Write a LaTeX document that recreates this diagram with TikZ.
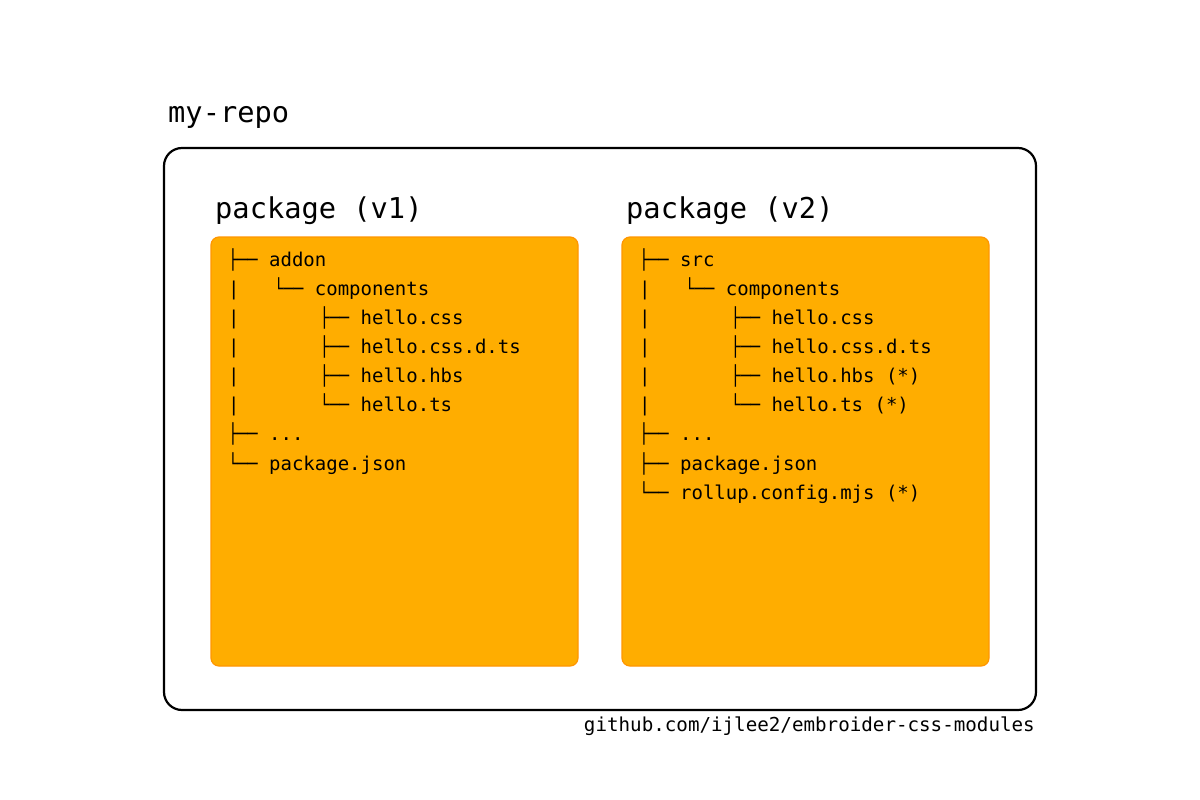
\documentclass[tikz,border=0pt]{standalone}
\usepackage{graphicx}
\usepackage{fontspec}
\setmonofont{DejaVu Sans Mono}
\definecolor{boxfill}{RGB}{255,173,0}
\definecolor{boxedge}{RGB}{255,150,0}
\tikzset{
  outerbox/.style={draw=black, line width=2.2pt, rounded corners=18pt, fill=white, inner sep=0pt},
  pkgbox/.style={draw=boxedge, line width=1.2pt, fill=boxfill, rounded corners=8pt, inner sep=0pt,
                 minimum width=367pt, minimum height=429pt},
  bigtitle/.style={anchor=base west, inner sep=0pt, font=\ttfamily\fontsize{28.7}{32}\selectfont},
  treeline/.style={anchor=base west, inner sep=0pt, font=\ttfamily\fontsize{19}{23}\selectfont},
  footer/.style={anchor=base east, inner sep=0pt, font=\ttfamily\fontsize{19.2}{23}\selectfont}
}
\newcommand\tee{\scalebox{0.86}[1]{├──}}
\newcommand\elb{\scalebox{0.86}[1]{└──}}
\begin{document}
\begin{tikzpicture}[x=1pt,y=-1pt]
\useasboundingbox (0,0) rectangle (1200,800);
\node[outerbox, minimum width=872pt, minimum height=562pt] (repo) at (600,429) {};
\node[bigtitle] (repotitle) at (168,122) {my-repo};
\node[bigtitle] (t1) at (215,218) {package (v1)};
\node[bigtitle] (t2) at (626,218) {package (v2)};
\node[pkgbox] (p1) at (394.5,451.5) {};
\node[pkgbox] (p2) at (805.5,451.5) {};
% left tree
\node[treeline] (a0) at (228,266.0) {\tee\ addon};
\node[treeline] (a1) at (228,295.2) {|\ \ \ \elb\ components};
\node[treeline] (a2) at (228,324.3) {|\ \ \ \ \ \ \ \tee\ hello.css};
\node[treeline] (a3) at (228,353.5) {|\ \ \ \ \ \ \ \tee\ hello.css.d.ts};
\node[treeline] (a4) at (228,382.6) {|\ \ \ \ \ \ \ \tee\ hello.hbs};
\node[treeline] (a5) at (228,411.8) {|\ \ \ \ \ \ \ \elb\ hello.ts};
\node[treeline] (a6) at (228,440.9) {\tee\ ...};
\node[treeline] (a7) at (228,470.1) {\elb\ package.json};
% right tree
\node[treeline] (b0) at (639,266.0) {\tee\ src};
\node[treeline] (b1) at (639,295.2) {|\ \ \ \elb\ components};
\node[treeline] (b2) at (639,324.3) {|\ \ \ \ \ \ \ \tee\ hello.css};
\node[treeline] (b3) at (639,353.5) {|\ \ \ \ \ \ \ \tee\ hello.css.d.ts};
\node[treeline] (b4) at (639,382.6) {|\ \ \ \ \ \ \ \tee\ hello.hbs (*)};
\node[treeline] (b5) at (639,411.8) {|\ \ \ \ \ \ \ \elb\ hello.ts (*)};
\node[treeline] (b6) at (639,440.9) {\tee\ ...};
\node[treeline] (b7) at (639,470.1) {\tee\ package.json};
\node[treeline] (b8) at (639,499.2) {\elb\ rollup.config.mjs (*)};
\node[footer] (src) at (1035,731) {github.com/ijlee2/embroider-css-modules};
\end{tikzpicture}
\end{document}
